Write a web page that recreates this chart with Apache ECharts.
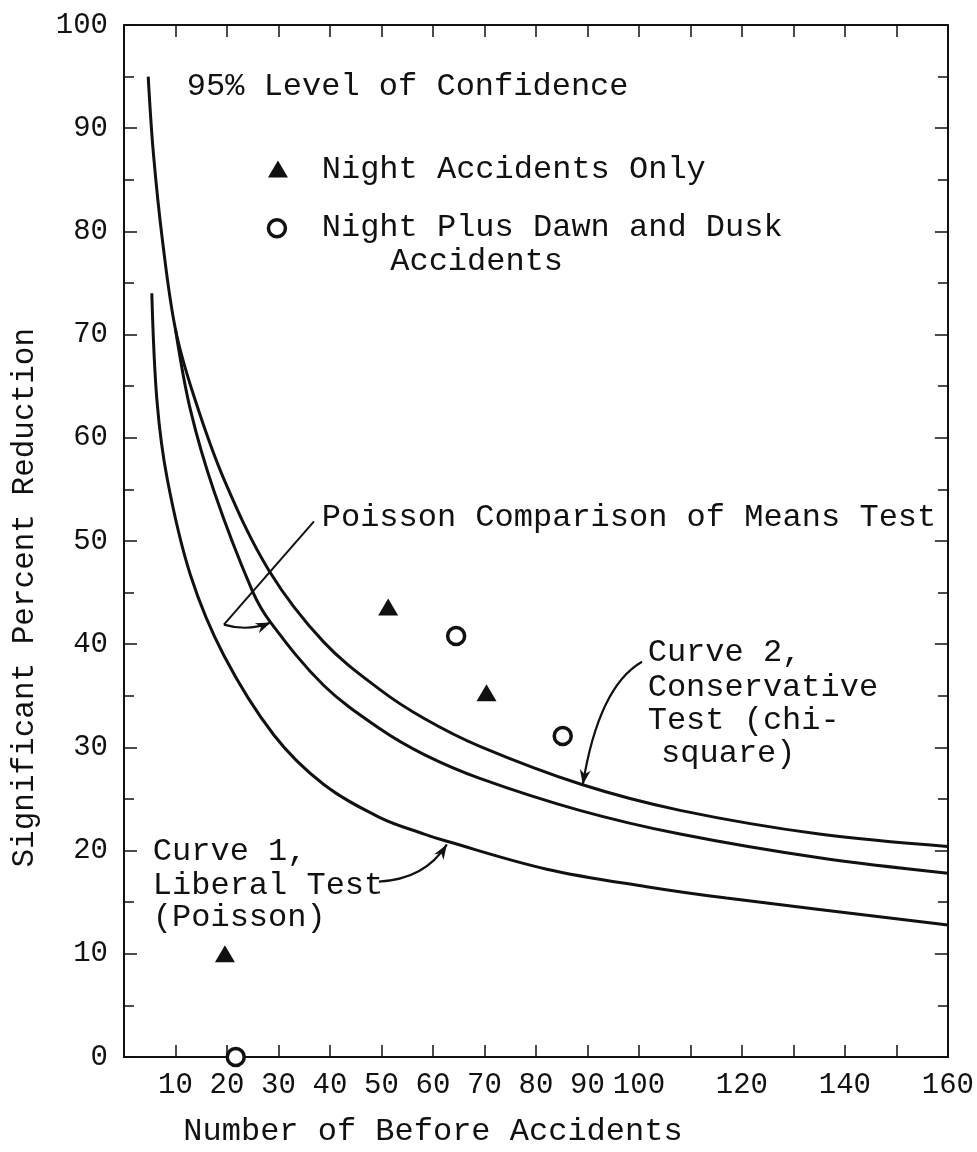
<!DOCTYPE html>
<html>
<head>
<meta charset="utf-8">
<script src="https://cdn.jsdelivr.net/npm/echarts@6/dist/echarts.min.js"></script>
<style>
    html, body { margin: 0; padding: 0; background: #fff; }
    #chart { width: 977px; height: 1152px; }
</style>
</head>
<body>
<div id="chart"></div>
<script>
// tick labels
var xTickLabels = [10, 20, 30, 40, 50, 60, 70, 80, 90, 100, 120, 140, 160];
var yTickLabels = [0, 10, 20, 30, 40, 50, 60, 70, 80, 90, 100];

// Curve 2, conservative test (chi-square)
var curve2X = [4.7, 5.7, 7.5, 10, 13.6, 19.4, 28.2, 38.8, 49.7, 58.3, 69.1, 88.9, 108, 135, 160];
var curve2Y = [95.0, 87.6, 79.0, 70.5, 64.0, 56.0, 47.1, 40.2, 35.6, 32.8, 30.1, 26.4, 23.9, 21.6, 20.4];

// Poisson comparison of means test
var poissonX = [10, 12.9, 17.5, 24.9, 28.5, 38.8, 49.7, 58.3, 69.1, 88.5, 108, 135, 160];
var poissonY = [70.5, 62.7, 54.8, 45.2, 42.1, 36.0, 31.8, 29.3, 27.0, 23.9, 21.6, 19.3, 17.8];

// Curve 1, liberal test (Poisson)
var curve1X = [5.4, 6.4, 8.4, 12.9, 19.4, 29.1, 38.8, 49.7, 58.3, 62.7, 82.1, 101.5, 117, 160];
var curve1Y = [74.0, 63.6, 56.0, 46.7, 38.9, 31.2, 26.4, 23.2, 21.6, 20.9, 18.2, 16.5, 15.4, 12.8];

// observed sites
var nightOnlyX = [19.6, 51.3, 70.4];
var nightOnlyY = [10.0, 43.6, 35.3];
var nightDuskX = [21.7, 64.5, 85.2];
var nightDuskY = [0, 40.8, 31.1];

var FONT = '"Liberation Mono", "Courier New", monospace';
var INK = '#111';

function pairs(xs, ys) {
    return xs.map(function (x, i) { return [x, ys[i]]; });
}

var myChart = echarts.init(document.getElementById('chart'));

function xAxisBase() {
    return {
        type: 'value',
        min: 0,
        max: 160,
        interval: 10,
        splitLine: { show: false },
        axisLine: { onZero: false, lineStyle: { color: INK, width: 2 } },
        axisTick: { inside: true, length: 12, lineStyle: { color: INK, width: 1.5 } }
    };
}
function yAxisBase() {
    return {
        type: 'value',
        min: 0,
        max: 100,
        interval: 10,
        splitLine: { show: false },
        axisLine: { onZero: false, lineStyle: { color: INK, width: 2 } },
        axisTick: { inside: true, length: 13, lineStyle: { color: INK, width: 1.5 } },
        minorTick: { show: true, splitNumber: 2, length: 10, lineStyle: { color: INK, width: 1.5 } }
    };
}

var lineSeries = function (name, xs, ys) {
    return {
        name: name, type: 'line', data: pairs(xs, ys),
        smooth: 0.35, showSymbol: false, z: 3,
        lineStyle: { color: INK, width: 3 }
    };
};

var chartOpt = {
    backgroundColor: '#fff',
    animation: false,
    grid: { left: 124, right: 29, top: 25, bottom: 95 },
    xAxis: [
        Object.assign(xAxisBase(), {
            position: 'bottom',
            axisLabel: {
                color: INK,
                fontFamily: FONT,
                fontSize: 29,
                margin: 14,
                showMaxLabel: true,
                formatter: function (v) { return xTickLabels.indexOf(v) >= 0 ? String(v) : ''; }
            }
        }),
        Object.assign(xAxisBase(), { position: 'top', axisLabel: { show: false } })
    ],
    yAxis: [
        Object.assign(yAxisBase(), {
            position: 'left',
            axisLabel: {
                color: INK,
                fontFamily: FONT,
                fontSize: 29,
                margin: 16,
                formatter: function (v) { return yTickLabels.indexOf(v) >= 0 ? String(v) : ''; }
            }
        }),
        Object.assign(yAxisBase(), { position: 'right', axisLabel: { show: false } })
    ],
    series: [
        lineSeries('Curve 2', curve2X, curve2Y),
        lineSeries('Poisson Comparison of Means Test', poissonX, poissonY),
        lineSeries('Curve 1', curve1X, curve1Y),
        {
            name: 'Night Accidents Only', type: 'scatter', data: pairs(nightOnlyX, nightOnlyY),
            symbol: 'triangle', symbolSize: [20, 17], clip: false, z: 5,
            itemStyle: { color: INK, opacity: 1 }
        },
        {
            name: 'Night Plus Dawn and Dusk Accidents', type: 'scatter', data: pairs(nightDuskX, nightDuskY),
            symbol: 'circle', symbolSize: 17, clip: false, z: 5,
            itemStyle: { color: '#fff', borderColor: INK, borderWidth: 3.5, opacity: 1 }
        }
    ]
};

myChart.setOption(chartOpt);

// annotations, anchored in data units
var notes = [
    { t: '95% Level of Confidence', x: 12.2, y: 94.0 },
    { t: 'Night Accidents Only', x: 38.4, y: 86.0 },
    { t: 'Night Plus Dawn and Dusk', x: 38.4, y: 80.4 },
    { t: 'Accidents', x: 51.7, y: 77.1 },
    { t: 'Poisson Comparison of Means Test', x: 38.4, y: 52.3 },
    { t: 'Curve 2,', x: 101.7, y: 39.2 },
    { t: 'Conservative', x: 101.7, y: 35.8 },
    { t: 'Test (chi-', x: 101.7, y: 32.6 },
    { t: 'square)', x: 104.3, y: 29.4 },
    { t: 'Curve 1,', x: 5.6, y: 19.9 },
    { t: 'Liberal Test', x: 5.6, y: 16.6 },
    { t: '(Poisson)', x: 5.6, y: 13.5 }
];
var arrows = [
    { from: [19.4, 41.9], ctrl: [24.1, 41.2], to: [28.5, 42.1] },
    { from: [100.6, 38.3], ctrl: [92.2, 35.9], to: [89.1, 26.4] },
    { from: [49.5, 17.0], ctrl: [58.4, 17.2], to: [62.7, 20.6] }
];
var pointer = [[36.9, 51.9], [19.4, 41.9]];

function px(p) {
    return myChart.convertToPixel({ gridIndex: 0 }, p);
}

var g = [];
notes.forEach(function (n) {
    var p = px([n.x, n.y]);
    g.push({
        type: 'text', x: p[0], y: p[1], z: 10,
        style: { text: n.t, fontFamily: FONT, fontSize: 32, fill: INK, align: 'left', verticalAlign: 'middle' }
    });
});

// axis titles
var xt = px([60, -7.2]);
g.push({
    type: 'text', x: xt[0], y: xt[1],
    style: { text: 'Number of Before Accidents', fontFamily: FONT, fontSize: 32, fill: INK, align: 'center', verticalAlign: 'middle' }
});
var yt = px([-19.2, 44.5]);
g.push({
    type: 'text', x: yt[0], y: yt[1], rotation: Math.PI / 2,
    style: { text: 'Significant Percent Reduction', fontFamily: FONT, fontSize: 31, fill: INK, align: 'center', verticalAlign: 'middle' }
});

// legend markers
var lt = px([29.9, 86.0]);
g.push({
    type: 'polygon', z: 10,
    shape: { points: [[lt[0], lt[1] - 9], [lt[0] + 10, lt[1] + 8], [lt[0] - 10, lt[1] + 8]] },
    style: { fill: INK }
});
var lc = px([29.7, 80.3]);
g.push({
    type: 'circle', z: 10,
    shape: { cx: lc[0], cy: lc[1], r: 8.5 },
    style: { fill: '#fff', stroke: INK, lineWidth: 3.5 }
});

// pointer line
g.push({
    type: 'polyline', z: 10,
    shape: { points: pointer.map(px) },
    style: { stroke: INK, lineWidth: 2, fill: null }
});

// curved arrows with heads
arrows.forEach(function (a) {
    var s = px(a.from), c = px(a.ctrl), e = px(a.to);
    g.push({
        type: 'bezierCurve', z: 10,
        shape: { x1: s[0], y1: s[1], cpx1: c[0], cpy1: c[1], x2: e[0], y2: e[1] },
        style: { stroke: INK, lineWidth: 2.2, fill: null }
    });
    var dx = e[0] - c[0], dy = e[1] - c[1];
    var len = Math.sqrt(dx * dx + dy * dy);
    dx /= len; dy /= len;
    var L = 15, W = 5.5;
    g.push({
        type: 'polygon', z: 10,
        shape: {
            points: [
                [e[0], e[1]],
                [e[0] - L * dx - W * dy, e[1] - L * dy + W * dx],
                [e[0] - L * dx * 0.7, e[1] - L * dy * 0.7],
                [e[0] - L * dx + W * dy, e[1] - L * dy - W * dx]
            ]
        },
        style: { fill: INK }
    });
});

myChart.setOption({ graphic: g });
</script>
</body>
</html>
